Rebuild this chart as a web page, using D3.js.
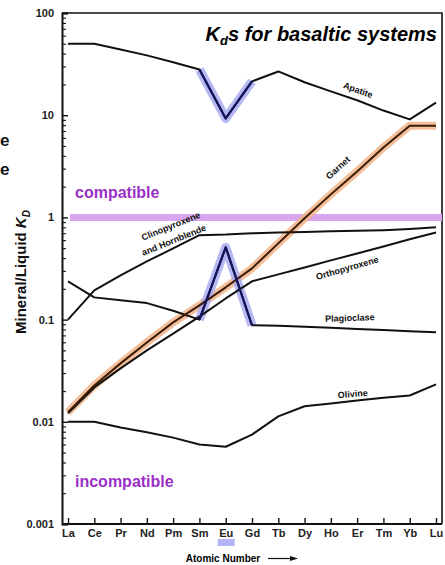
<!DOCTYPE html>
<html>
<head>
<meta charset="utf-8">
<script src="https://cdn.jsdelivr.net/npm/d3@7"></script>
<style>
  body { margin: 0; background: #fff; }
  svg { display: block; font-family: "Liberation Sans", Arial, sans-serif; }
</style>
</head>
<body>
<div id="chart"></div>
<script>
var svgWidth = 445;
var svgHeight = 565;

// REE on the x axis
var elements = ["La", "Ce", "Pr", "Nd", "Pm", "Sm", "Eu", "Gd", "Tb", "Dy", "Ho", "Er", "Tm", "Yb", "Lu"];

// partition coefficients
var apatite = [50, 50, 44, 38.5, 33, 28, 9.3, 21.4, 26.8, 21, 17.1, 14, 11.1, 9.1, 13.3];
var garnet = [0.0124, 0.0227, 0.0373, 0.0598, 0.094, 0.138, 0.207, 0.317, 0.557, 0.98, 1.68, 2.82, 4.84, 7.9, 7.9];
var cpxHbl = [0.1, 0.193, 0.271, 0.371, 0.497, 0.67, 0.68, 0.70, 0.71, 0.72, 0.73, 0.74, 0.75, 0.77, 0.80];
var opx = [0.0121, 0.0217, 0.0333, 0.050, 0.073, 0.107, 0.161, 0.237, 0.277, 0.324, 0.38, 0.444, 0.52, 0.61, 0.713];
var plag = [0.237, 0.165, 0.155, 0.145, 0.122, 0.100, 0.51, 0.088, 0.087, 0.085, 0.083, 0.081, 0.079, 0.077, 0.075];
var olivine = [0.0100, 0.0100, 0.0088, 0.0079, 0.0070, 0.0060, 0.0057, 0.0075, 0.0113, 0.0142, 0.0151, 0.0162, 0.0172, 0.0181, 0.0232];

var yTicks = [0.001, 0.01, 0.1, 1, 10, 100];
var yTickLabels = ["0.001", "0.01", "0.1", "1", "10", "100"];

var svg = d3.select("#chart")
  .append("svg")
  .attr("width", svgWidth)
  .attr("height", svgHeight);

// scales
var x = d3.scalePoint()
  .domain(elements)
  .range([68, 436]);

var y = d3.scaleLog()
  .domain([0.001, 100])
  .range([524, 13]);

var plotLeft = 62, plotRight = 442;

// frame (top and right)
svg.append("path")
  .attr("d", `M${plotLeft},${y(100)}H${plotRight}V${y(0.001)}`)
  .attr("fill", "none")
  .attr("stroke", "#111")
  .attr("stroke-width", 1.6);

// compatible / incompatible divider at Kd = 1
svg.append("line")
  .attr("x1", 70).attr("x2", plotRight)
  .attr("y1", y(1)).attr("y2", y(1))
  .attr("stroke", "#d9a6ef")
  .attr("stroke-width", 7);

// minor ticks on y
var minor = [];
yTicks.slice(0, -1).forEach(function(t) {
  for (var k = 2; k <= 9; k++) minor.push(t * k);
});

svg.append("g")
  .attr("transform", `translate(${plotLeft},0)`)
  .call(d3.axisLeft(y).tickValues(minor).tickSize(-4).tickFormat(""))
  .call(g => g.select(".domain").remove())
  .selectAll("line").attr("stroke", "#222").attr("stroke-width", 1.2);

// y axis
var yAxis = svg.append("g")
  .attr("transform", `translate(${plotLeft},0)`)
  .call(d3.axisLeft(y)
    .tickValues(yTicks)
    .tickSize(-6)
    .tickPadding(8)
    .tickFormat((d, i) => yTickLabels[i]));
yAxis.select(".domain").attr("stroke", "#111").attr("stroke-width", 2);
yAxis.selectAll("line").attr("stroke", "#111").attr("stroke-width", 1.4);
yAxis.selectAll("text")
  .attr("font-size", 11)
  .attr("font-weight", "bold")
  .attr("fill", "#222");

// Eu highlight under its label
svg.append("rect")
  .attr("x", x("Eu") - 8)
  .attr("y", 539)
  .attr("width", 17)
  .attr("height", 7)
  .attr("fill", "#b3b3f7");

// x axis
var xAxis = svg.append("g")
  .attr("transform", `translate(0,${y(0.001)})`)
  .call(d3.axisBottom(x).tickSize(-6).tickPadding(5));
xAxis.select(".domain")
  .attr("d", `M${plotLeft},0H${plotRight}`)
  .attr("stroke", "#111").attr("stroke-width", 2);
xAxis.selectAll("line").attr("stroke", "#111").attr("stroke-width", 1.4);
xAxis.selectAll("text")
  .attr("font-size", 11)
  .attr("font-weight", "bold")
  .attr("fill", "#222");

// x axis title with arrow
svg.append("text")
  .attr("x", 223)
  .attr("y", 562)
  .attr("text-anchor", "middle")
  .attr("font-size", 10)
  .attr("font-weight", "bold")
  .text("Atomic Number");
svg.append("line")
  .attr("x1", 268).attr("x2", 293)
  .attr("y1", 558.5).attr("y2", 558.5)
  .attr("stroke", "#111").attr("stroke-width", 1.2);
svg.append("path")
  .attr("d", "M298,558.5L290,556L290,561Z")
  .attr("fill", "#111");

// y axis title
var yTitle = svg.append("text")
  .attr("transform", "translate(26,272) rotate(-90)")
  .attr("text-anchor", "middle")
  .attr("font-size", 15)
  .attr("font-weight", "bold")
  .attr("fill", "#111");
yTitle.append("tspan").text("Mineral/Liquid ");
yTitle.append("tspan").attr("font-style", "italic").text("K");
yTitle.append("tspan").attr("font-style", "italic").attr("font-size", 10).attr("dy", 4).text("D");

// stray letters at the left edge
[146, 175].forEach(function(yy) {
  svg.append("text")
    .attr("x", 0).attr("y", yy)
    .attr("font-size", 17)
    .attr("font-weight", "bold")
    .attr("fill", "#111")
    .text("e");
});

var line = d3.line()
  .x((d, i) => x(elements[i]))
  .y(d => y(d));

// highlights behind the lines
svg.append("path")
  .datum(garnet)
  .attr("d", line)
  .attr("fill", "none")
  .attr("stroke", "#f2b48a")
  .attr("stroke-width", 8)
  .attr("stroke-linejoin", "round")
  .attr("opacity", 0.85);

var euIdx = [5, 6, 7];
var euLine = d3.line()
  .x(i => x(elements[i]));

[apatite, plag].forEach(function(series) {
  svg.append("path")
    .attr("d", euLine.y(i => y(series[i]))(euIdx))
    .attr("fill", "none")
    .attr("stroke", "#a9acf1")
    .attr("stroke-width", 9)
    .attr("stroke-linejoin", "round")
    .attr("opacity", 0.85);
});

// mineral curves
var curves = [
  { data: apatite, color: "#111" },
  { data: cpxHbl, color: "#111" },
  { data: opx, color: "#111" },
  { data: plag, color: "#111" },
  { data: olivine, color: "#111" },
  { data: garnet, color: "#3d1c06" }
];

curves.forEach(function(c) {
  svg.append("path")
    .datum(c.data)
    .attr("d", line)
    .attr("fill", "none")
    .attr("stroke", c.color)
    .attr("stroke-width", 2)
    .attr("stroke-linejoin", "round");
});

// dark blue over the Eu anomalies
[apatite, plag].forEach(function(series) {
  svg.append("path")
    .attr("d", euLine.y(i => y(series[i]))(euIdx))
    .attr("fill", "none")
    .attr("stroke", "#15155e")
    .attr("stroke-width", 2.2)
    .attr("stroke-linejoin", "round");
});

// curve labels
var labels = [
  { text: "Apatite", x: 357, y: 93, rot: 20 },
  { text: "Garnet", x: 340, y: 170, rot: -42 },
  { text: "Clinopyroxene", x: 172, y: 229, rot: -22 },
  { text: "and Hornblende", x: 175, y: 243, rot: -22 },
  { text: "Orthopyroxene", x: 348, y: 271, rot: -16 },
  { text: "Plagioclase", x: 350, y: 321, rot: -2 },
  { text: "Olivine", x: 353, y: 397, rot: -5 }
];

svg.selectAll(".curve-label")
  .data(labels)
  .enter()
  .append("text")
  .attr("class", "curve-label")
  .attr("transform", d => `translate(${d.x},${d.y}) rotate(${d.rot})`)
  .attr("text-anchor", "middle")
  .attr("font-size", 9)
  .attr("font-weight", "bold")
  .attr("fill", "#111")
  .text(d => d.text);

// compatible / incompatible notes
svg.append("text")
  .attr("x", 75).attr("y", 198)
  .attr("font-size", 16)
  .attr("font-weight", "bold")
  .attr("fill", "#9a2fc6")
  .text("compatible");

svg.append("text")
  .attr("x", 75).attr("y", 487)
  .attr("font-size", 16)
  .attr("font-weight", "bold")
  .attr("fill", "#9a2fc6")
  .text("incompatible");

// title
var title = svg.append("text")
  .attr("x", 437).attr("y", 41)
  .attr("text-anchor", "end")
  .attr("font-size", 20)
  .attr("font-weight", "bold")
  .attr("font-style", "italic")
  .attr("fill", "#000");
title.append("tspan").text("K");
title.append("tspan").attr("font-size", 13).attr("dy", 4).text("d");
title.append("tspan").attr("dy", -4).text("s for basaltic systems");
</script>
</body>
</html>
